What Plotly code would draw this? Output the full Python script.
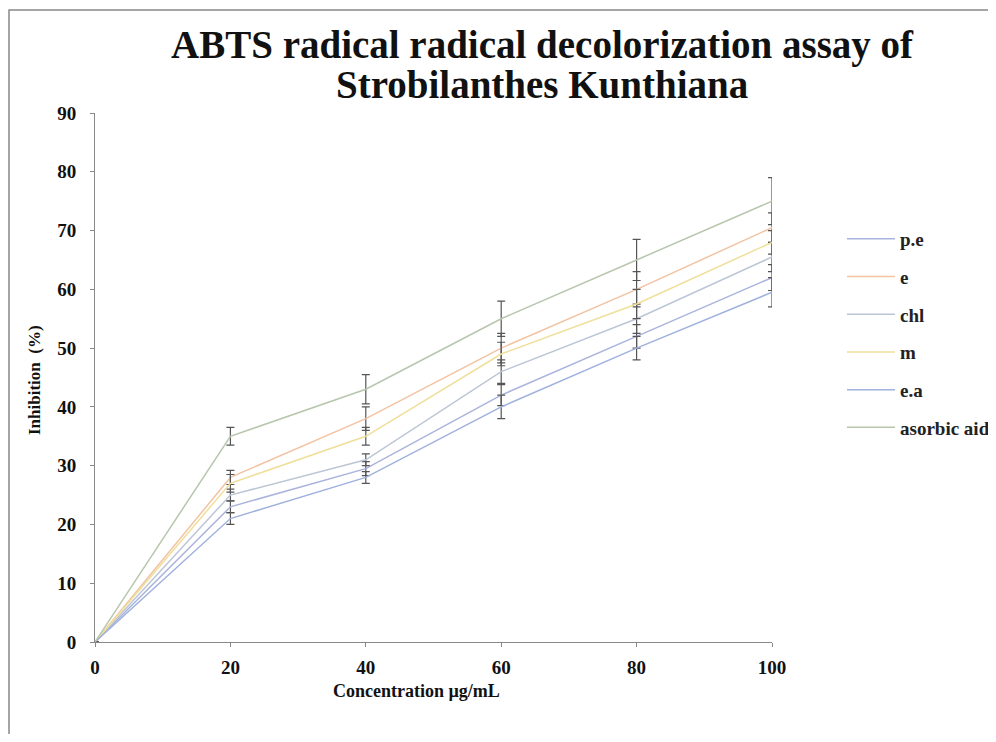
import plotly.graph_objects as go

conc = [0, 20, 40, 60, 80, 100]
series_names = ["p.e", "e", "chl", "m", "e.a", "asorbic aid"]
pe = [0, 23, 29.5, 42, 52, 62]
e = [0, 28, 38, 50, 60, 70.5]
chl = [0, 25, 31, 46, 55, 65.5]
m = [0, 27, 35, 49, 57.5, 68]
ea = [0, 21, 28, 40, 50, 59.5]
asorbic = [0, 35, 43, 55, 65, 75]

err_pe = [0, 1.0, 1.2, 1.8, 2.0, 2.2]
err_e = [0, 1.2, 2.0, 2.5, 3.0, 2.5]
err_chl = [0, 1.0, 1.0, 2.0, 2.5, 2.5]
err_m = [0, 1.5, 1.5, 2.0, 2.5, 2.0]
err_ea = [0, 1.0, 1.0, 2.0, 2.0, 2.5]
err_asorbic = [0, 1.5, 2.5, 3.0, 3.5, 4.0]

colors = ["#aab3dc", "#f2c3a3", "#bcc6d6", "#efdf9a", "#9fb2dd", "#b7c6ad"]
values = [pe, e, chl, m, ea, asorbic]
errors = [err_pe, err_e, err_chl, err_m, err_ea, err_asorbic]

fig = go.Figure()
for name, y, err, col in zip(series_names, values, errors, colors):
    fig.add_trace(go.Scatter(
        x=conc, y=y, mode="lines", name=name, legendgroup=name,
        line=dict(color=col, width=1.5),
        error_y=dict(type="data", array=err, visible=True, color="#555555", thickness=1.2, width=4),
    ))

FF = "Liberation Serif"
TXT = "#111111"

# page pixel -> paper helpers (plot area spans page x 95..772, y 113..642)
def px(x):
    return (x - 95) / 677.0

def py(y):
    return (642 - y) / 529.0

fig.update_layout(
    width=980, height=726,
    margin=dict(l=87, r=216, t=105, b=92, autoexpand=False),
    paper_bgcolor="white", plot_bgcolor="white",
    font=dict(family=FF, color=TXT),
    showlegend=True,
    legend=dict(x=px(842), y=py(220), xanchor="left", yanchor="top",
                font=dict(family=FF, size=19, color="#222222", weight="bold"),
                tracegroupgap=10, itemwidth=48, bgcolor="rgba(0,0,0,0)"),
    xaxis=dict(range=[0, 100], tickvals=[0, 20, 40, 60, 80, 100], showgrid=False, zeroline=False,
               showline=True, linecolor="#888888", linewidth=1, ticks="outside", ticklen=4,
               tickcolor="#888888", ticklabelstandoff=4,
               tickfont=dict(family=FF, size=19, color=TXT, weight="bold")),
    yaxis=dict(range=[0, 90], tickvals=list(range(0, 91, 10)), showgrid=False, zeroline=False,
               showline=True, linecolor="#888888", linewidth=1, ticks="outside", ticklen=4,
               tickcolor="#888888", ticklabelstandoff=10,
               tickfont=dict(family=FF, size=19, color=TXT, weight="bold")),
)

annos = [
    dict(text="ABTS radical radical decolorization assay of", x=px(542), y=py(45), size=39),
    dict(text="Strobilanthes Kunthiana", x=px(542), y=py(85), size=39),
    dict(text="Concentration µg/mL", x=px(416), y=py(691), size=18),
]
for a in annos:
    fig.add_annotation(text=a["text"], x=a["x"], y=a["y"], xref="paper", yref="paper",
                       xanchor="center", yanchor="middle", showarrow=False,
                       font=dict(family=FF, size=a["size"], color=TXT, weight="bold"))
fig.add_annotation(text="Inhibition  (%)", x=px(35), y=py(380), xref="paper", yref="paper",
                   xanchor="center", yanchor="middle", showarrow=False, textangle=-90,
                   font=dict(family=FF, size=17, color=TXT, weight="bold"))

fig.add_shape(type="rect", xref="paper", yref="paper", x0=px(9), x1=px(992), y0=py(760), y1=py(10),
              line=dict(color="#888888", width=1.5), fillcolor="rgba(0,0,0,0)", layer="below")
fig.write_html("out.html")
